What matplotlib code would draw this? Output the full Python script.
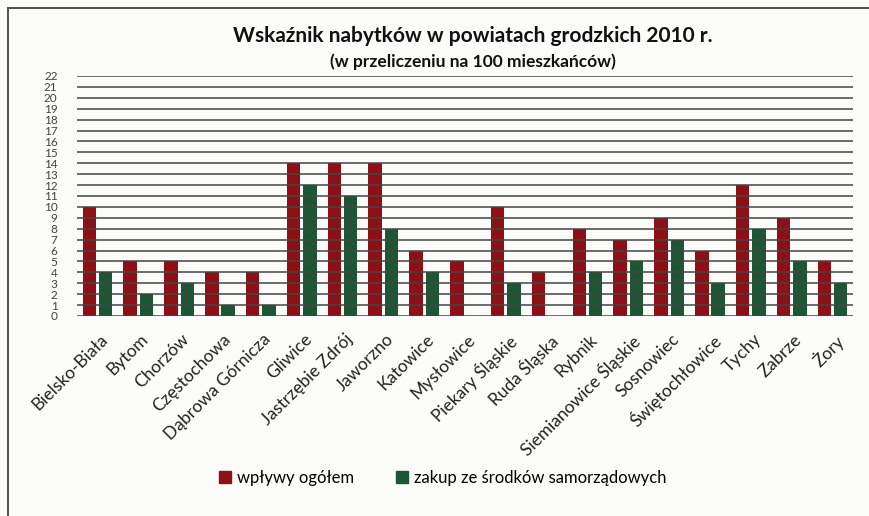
import numpy as np
import matplotlib.pyplot as plt
from matplotlib.patches import Rectangle, Patch

plt.rcParams['font.family'] = ['Lato', 'DejaVu Sans']

# dane
powiaty = ['Bielsko-Biała', 'Bytom', 'Chorzów', 'Częstochowa', 'Dąbrowa Górnicza',
           'Gliwice', 'Jastrzębie Zdrój', 'Jaworzno', 'Katowice', 'Mysłowice',
           'Piekary Śląskie', 'Ruda Śląska', 'Rybnik', 'Siemianowice Śląskie',
           'Sosnowiec', 'Świętochłowice', 'Tychy', 'Zabrze', 'Żory']
wplywy = [10, 5, 5, 4, 4, 14, 14, 14, 6, 5, 10, 4, 8, 7, 9, 6, 12, 9, 5]
zakup = [4, 2, 3, 1, 1, 12, 11, 8, 4, 0, 3, 0, 4, 5, 7, 3, 8, 5, 3]

red = '#8c1015'
green = '#1d5633'

fig = plt.figure(figsize=(8.69, 5.16), dpi=100)
fig.patch.set_facecolor('#fbfbf9')

# ramka (skan strony)
fig.add_artist(Rectangle((8 / 869, -0.1), 1.2, 1 - 8 / 516 + 0.1, transform=fig.transFigure,
                         fill=False, edgecolor='#505050', lw=1.4))

ax = fig.add_axes([77 / 869, 1 - 316 / 516, (853 - 77) / 869, (316 - 76) / 516])
ax.set_facecolor('none')

x = np.arange(len(powiaty))
ax.bar(x - 0.2, wplywy, width=0.33, color=red, zorder=2)
ax.bar(x + 0.2, zakup, width=0.33, color=green, zorder=2)

ax.set_ylim(0, 22)
ax.set_xlim(-0.5, len(powiaty) - 0.5)
ax.set_yticks(range(0, 23))
ax.set_yticklabels([str(i) for i in range(0, 23)], fontsize=8.5, color='#444444')
ax.yaxis.grid(True, color='#444444', lw=1.1, zorder=3)
ax.set_axisbelow(False)
ax.tick_params(axis='y', length=0, pad=14)
ax.tick_params(axis='x', length=0, pad=11)
for s in ax.spines.values():
    s.set_visible(False)

ax.set_xticks(x + 0.05)
ax.set_xticklabels(powiaty, rotation=45, ha='right', rotation_mode='anchor',
                   fontsize=12.5, color='#222222')

fig.text(473 / 869, 1 - 36 / 516, 'Wskaźnik nabytków w powiatach grodzkich 2010 r.',
         ha='center', va='center', fontsize=15, fontweight='bold', color='#111111')
fig.text(473 / 869, 1 - 62 / 516, '(w przeliczeniu na 100 mieszkańców)',
         ha='center', va='center', fontsize=12.5, fontweight='bold', color='#111111')

handles = [Patch(color=red, label='wpływy ogółem'),
           Patch(color=green, label='zakup ze środków samorządowych')]
fig.legend(handles=handles, loc='center', bbox_to_anchor=(443 / 869, 1 - 478 / 516),
           ncol=2, frameon=False, fontsize=12, handlelength=0.7, handleheight=0.7,
           handletextpad=0.4, columnspacing=2.5)

fig.savefig('out.png', dpi=100, facecolor=fig.get_facecolor())
